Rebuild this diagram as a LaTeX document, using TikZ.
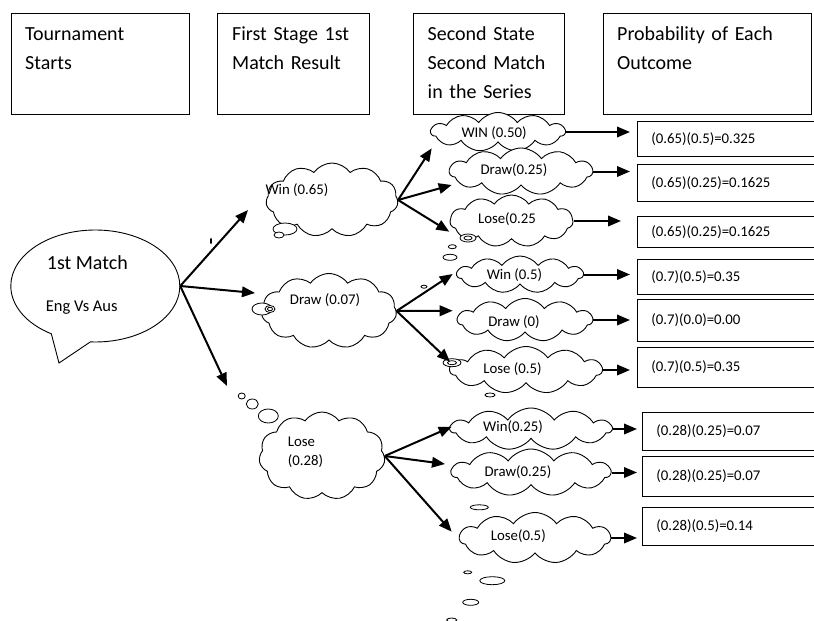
\documentclass[tikz,border=0pt]{standalone}
\usepackage{fontspec}
\setmainfont{Carlito}
\usetikzlibrary{arrows.meta,shapes.symbols,shapes.callouts}

\tikzset{
  hdrbox/.style={draw, line width=0.9pt, anchor=north west, minimum height=101pt, inner sep=0pt},
  hdrtxt/.style={anchor=base west, align=left, inner sep=0pt, text width=190pt, font=\fontsize{20}{28.7}\selectfont},
  puff/.style={cloud, draw, fill=white, line width=0.9pt, cloud puffs=11, cloud puff arc=110, cloud ignores aspect, inner sep=0pt},
  lbl/.style={inner sep=0pt, font=\fontsize{14.8}{19}\selectfont},
  probbox/.style={draw, line width=0.9pt, anchor=north west, text width=157pt, inner xsep=14pt, inner ysep=0pt, align=left, font=\fontsize{14.8}{18}\selectfont},
  arr/.style={line width=2pt, -{Triangle[length=13pt,width=10.5pt]}},
  bub/.style={draw, fill=white, line width=0.8pt}
}

\begin{document}
\begin{tikzpicture}[x=1pt,y=-1pt]
\useasboundingbox (0,0) rectangle (814,621);

% Column headings
\node[hdrbox, minimum width=178pt] (hTour) at (11,13) {};
\node[hdrbox, minimum width=152pt] (hFirst) at (217,13) {};
\node[hdrbox, minimum width=151pt] (hSecond) at (413,13) {};
\node[hdrbox, minimum width=208pt] (hProb) at (603,13) {};
\node[hdrtxt] (tTour) at (25,40.7) {Tournament\\Starts};
\node[hdrtxt] (tFirst) at (232,40.7) {First Stage 1st\\Match Result};
\node[hdrtxt] (tSecond) at (427.5,40.7) {Second State\\Second Match\\in the Series};
\node[hdrtxt] (tProb) at (617,40.7) {Probability of Each\\Outcome};

% First match
\node[ellipse callout, draw, line width=0.9pt, minimum width=169pt, minimum height=112pt,
  callout absolute pointer={(59,363)}, callout pointer arc=28] (mBub) at (95.3,286) {};
\node[anchor=base west, inner sep=0pt, font=\fontsize{20}{24}\selectfont] (tMatch) at (46.7,269) {1st Match};
\node[anchor=base west, inner sep=0pt, font=\fontsize{16.5}{20}\selectfont] (tTeams) at (45.7,311.7) {Eng Vs Aus};

% First stage
\node[puff, minimum width=132pt, minimum height=74pt] (cWinA) at (332,200) {};
\node[lbl] (tWinA) at (297,190) {Win (0.65)};
\node[puff, minimum width=135pt, minimum height=75pt] (cDrawA) at (329,311) {};
\node[lbl] (tDrawA) at (325,300) {Draw (0.07)};
\node[puff, minimum width=126pt, minimum height=88pt] (cLoseA) at (322,456) {};
\node[lbl, anchor=base west, align=left, text width=60pt] (tLoseA) at (287.7,446) {Lose\\(0.28)};

% Second stage after a win
\node[puff, minimum width=134pt, minimum height=39pt] (cWinB) at (498,132) {};
\node[lbl] (tWinB) at (494,133) {WIN (0.50)};
\node[puff, minimum width=143pt, minimum height=47pt] (cDrawB) at (521,171.5) {};
\node[lbl] (tDrawB) at (514,170) {Draw(0.25)};
\node[puff, minimum width=123pt, minimum height=52pt] (cLoseB) at (511.5,221) {};
\node[lbl] (tLoseB) at (507,219) {Lose(0.25};

% Second stage after a draw
\node[puff, minimum width=126pt, minimum height=37pt] (cWinC) at (520,274.5) {};
\node[lbl] (tWinC) at (514.5,275) {Win (0.5)};
\node[puff, minimum width=135pt, minimum height=43pt] (cDrawC) at (525,320) {};
\node[lbl] (tDrawC) at (514,321.7) {Draw (0)};
\node[puff, minimum width=152pt, minimum height=47pt] (cLoseC) at (526,370) {};
\node[lbl] (tLoseC) at (512.5,369) {Lose (0.5)};

% Second stage after a loss
\node[puff, minimum width=161pt, minimum height=42pt] (cWinD) at (531,429) {};
\node[lbl] (tWinD) at (513,426.7) {Win(0.25)};
\node[puff, minimum width=159pt, minimum height=47pt] (cDrawD) at (531,472.5) {};
\node[lbl] (tDrawD) at (518,471.7) {Draw(0.25)};
\node[puff, minimum width=151pt, minimum height=51pt] (cLoseD) at (535,538) {};
\node[lbl] (tLoseD) at (518.3,536) {Lose(0.5)};

% Thought bubbles
\draw[bub] (285,229) ellipse [x radius=12, y radius=6];
\draw[bub] (279,235) ellipse [x radius=5, y radius=3];
\draw[bub] (211,241) ellipse [x radius=0.6, y radius=2.5];
\draw[bub] (262,309) ellipse [x radius=10, y radius=6];
\draw[bub] (270,309) ellipse [x radius=5, y radius=3.5];
\draw[bub] (270,309) ellipse [x radius=2.5, y radius=1.8];
\draw[bub] (241.7,396) ellipse [x radius=3.5, y radius=3];
\draw[bub] (252.3,404) ellipse [x radius=6, y radius=5];
\draw[bub] (268.3,416) ellipse [x radius=10, y radius=7];
\draw[bub] (468,238) ellipse [x radius=8, y radius=4];
\draw[bub] (468,238) ellipse [x radius=4, y radius=2];
\draw[bub] (452.3,246.7) ellipse [x radius=4, y radius=2];
\draw[bub] (450,257.3) ellipse [x radius=7, y radius=3];
\draw[bub] (424,286.7) ellipse [x radius=3, y radius=1.5];
\draw[bub] (452,362.7) ellipse [x radius=9, y radius=4];
\draw[bub] (452,362.7) ellipse [x radius=4.5, y radius=2];
\draw[bub] (490,395) ellipse [x radius=5, y radius=2];
\draw[bub] (479.3,507.3) ellipse [x radius=9, y radius=2.5];
\draw[bub] (467.7,572.3) ellipse [x radius=4, y radius=1.5];
\draw[bub] (492.3,580.7) ellipse [x radius=12.5, y radius=4];
\draw[bub] (470.7,602.3) ellipse [x radius=8, y radius=3];
\draw[bub] (451.7,620) ellipse [x radius=5, y radius=2];

% Probability of each outcome
\node[probbox, minimum height=35pt] (pWinB) at (637,121) {(0.65)(0.5)=0.325};
\node[probbox, minimum height=37pt] (pDrawB) at (637,164) {(0.65)(0.25)=0.1625};
\node[probbox, minimum height=31pt] (pLoseB) at (637,216) {(0.65)(0.25)=0.1625};
\node[probbox, minimum height=35pt] (pWinC) at (637,259) {(0.7)(0.5)=0.35};
\node[probbox, minimum height=42pt] (pDrawC) at (637,299) {(0.7)(0.0)=0.00};
\node[probbox, minimum height=40pt] (pLoseC) at (637,347) {(0.7)(0.5)=0.35};
\node[probbox, minimum height=38pt] (pWinD) at (642,412) {(0.28)(0.25)=0.07};
\node[probbox, minimum height=40pt] (pDrawD) at (642,456) {(0.28)(0.25)=0.07};
\node[probbox, minimum height=38pt] (pLoseD) at (642,507) {(0.28)(0.5)=0.14};

% Arrow tips
\coordinate (kWinA) at (248,210);
\coordinate (kDrawA) at (255,293);
\coordinate (kLoseA) at (227,386);
\coordinate (kWinB) at (431.7,148.3);
\coordinate (kDrawB) at (451.7,185);
\coordinate (kLoseB) at (449.3,231.7);
\coordinate (kWinC) at (452.7,274);
\coordinate (kDrawC) at (452.7,310.7);
\coordinate (kLoseC) at (450,361.7);
\coordinate (kWinD) at (451.7,426.7);
\coordinate (kDrawD) at (445,464);
\coordinate (kLoseD) at (451.7,531.7);

% Branches
\draw[arr] (mBub.east) -- (kWinA);
\draw[arr] (mBub.east) -- (kDrawA);
\draw[arr] (mBub.east) -- (kLoseA);
\foreach \s in {WinB,DrawB,LoseB} \draw[arr] (cWinA.east) -- (k\s);
\foreach \s in {WinC,DrawC,LoseC} \draw[arr] (cDrawA.east) -- (k\s);
\foreach \s in {WinD,DrawD,LoseD} \draw[arr] (cLoseA.east) -- (k\s);
\foreach \s in {WinB,DrawB,WinC,DrawC,LoseC}
  \draw[arr, shorten >=7pt] (c\s.east) -- (c\s.east -| p\s.west);
\draw[arr, shorten >=16pt] (cLoseB.east) -- (cLoseB.east -| pLoseB.west);
\foreach \s in {WinD,DrawD,LoseD}
  \draw[arr, shorten >=5pt] (c\s.east) -- (c\s.east -| p\s.west);
\end{tikzpicture}
\end{document}
